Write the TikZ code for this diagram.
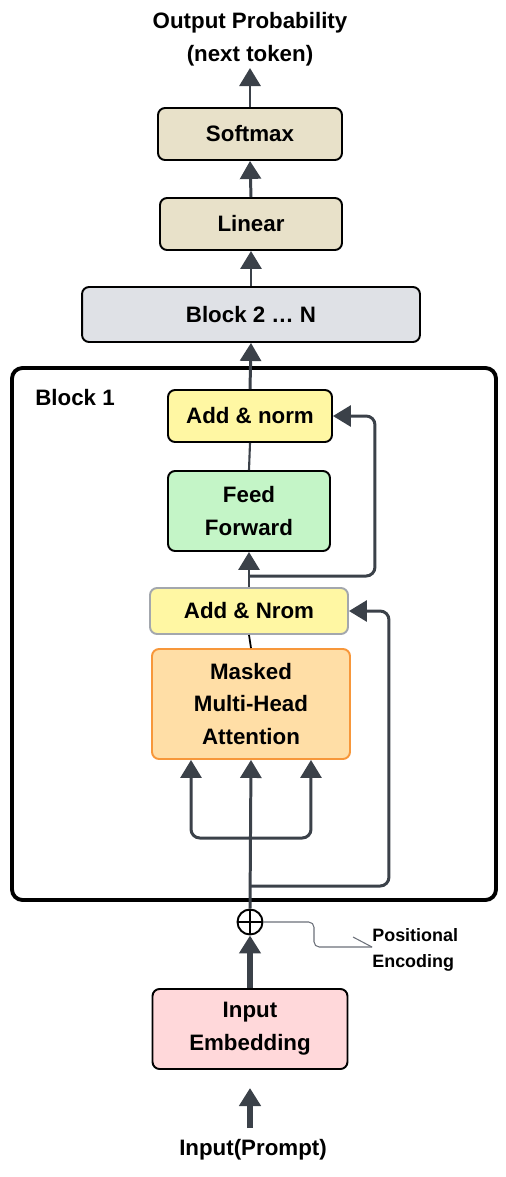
\documentclass[tikz,border=0pt]{standalone}
\usepackage{fontspec}
\setmainfont{Liberation Sans}
\usetikzlibrary{arrows.meta,calc}
\definecolor{arrowGray}{HTML}{3B4149}
\definecolor{lineGray}{HTML}{6B7079}
\definecolor{beigeFill}{HTML}{E8E1C9}
\definecolor{blockFill}{HTML}{DFE1E6}
\definecolor{yellowFill}{HTML}{FFF7A3}
\definecolor{greenFill}{HTML}{C4F5C7}
\definecolor{orangeFill}{HTML}{FFDEA6}
\definecolor{orangeLine}{HTML}{F7973A}
\definecolor{pinkFill}{HTML}{FFD8DA}
\definecolor{nromLine}{HTML}{A3A7AD}
\tikzstyle{layerBox}=[shape = rectangle, rounded corners = 4pt, draw = black, line width = 1.1pt, align = center, inner sep = 0pt, font = \bfseries\fontsize{12.7}{18.6}\selectfont]
\tikzstyle{plainText}=[align = center, inner sep = 0pt, font = \bfseries\fontsize{12.7}{18.6}\selectfont]

\begin{document}
\begin{tikzpicture}[x = 0.02cm, y = -0.02cm]
\tikzstyle{flowArrow}=[draw = arrowGray, line width = 1.7pt, -{Triangle[width = 0.42cm, length = 0.36cm]}]
\tikzstyle{thickArrow}=[flowArrow, line width = 2.9pt]
\tikzstyle{flowLine}=[draw = arrowGray, line width = 1.2pt]
\useasboundingbox (0,0) rectangle (506,1177);
\node[plainText] (output) at (250,39) {Output Probability\\(next token)};
\node[layerBox, fill = beigeFill, minimum width = 3.68cm, minimum height = 1.04cm] (softmax) at (250,134) {Softmax};
\node[layerBox, fill = beigeFill, minimum width = 3.64cm, minimum height = 1.04cm] (linear) at (251,224) {Linear};
\node[layerBox, fill = blockFill, minimum width = 6.76cm, minimum height = 1.1cm] (block2) at (251,314.5) {Block 2 \dots\ N};
\draw[black, line width = 2.2pt, rounded corners = 6pt] (12,368) rectangle (496,900);
\node[plainText, anchor = west] (block1) at (35,398) {Block 1};
\node[layerBox, fill = yellowFill, minimum width = 3.28cm, minimum height = 1.04cm] (addnorm) at (250,416) {Add \& norm};
\node[layerBox, fill = greenFill, minimum width = 3.24cm, minimum height = 1.6cm] (feedfwd) at (249,511) {Feed\\Forward};
\node[layerBox, fill = yellowFill, draw = nromLine, minimum width = 3.96cm, minimum height = 0.92cm] (addnrom) at (249,611) {Add \& Nrom};
\node[layerBox, fill = orangeFill, draw = orangeLine, minimum width = 3.96cm, minimum height = 2.2cm] (mmha) at (251,704) {Masked\\Multi-Head\\Attention};
\node[shape = circle, draw = black, fill = white, line width = 1.1pt, minimum size = 0.5cm, inner sep = 0pt] (plus) at (250,922) {};
\draw[black, line width = 1.1pt] (plus.north) -- (plus.south) (plus.west) -- (plus.east);
\node[plainText, anchor = west, align = left, font = \bfseries\fontsize{10.2}{14.8}\selectfont] (posenc) at (372,950) {Positional\\Encoding};
\node[layerBox, fill = pinkFill, minimum width = 3.9cm, minimum height = 1.6cm] (embed) at (250,1029) {Input\\Embedding};
\node[plainText] (prompt) at (253,1150) {Input(Prompt)};
\coordinate (outTip) at (250,68);
\coordinate (inBase) at (250,1128);
\coordinate (inTip) at (250,1088);
\coordinate (split) at (250,838);
\coordinate (res1) at (250,886);
\coordinate (res2) at (250,576);
\coordinate (peBend) at (314,922);
\coordinate (peEnd) at (372,947);
\coordinate (peTick) at (353,937);
\draw[flowArrow] (softmax.north) -- (outTip);
\draw[flowArrow] (linear.north) -- (softmax.south);
\draw[flowArrow] (block2.north) -- (linear.south);
\draw[flowArrow] (addnorm.north) -- (block2.south);
\draw[flowLine] (feedfwd.north) -- (addnorm.south);
\draw[flowArrow] (addnrom.north) -- (feedfwd.south);
\draw[black, line width = 1pt] (mmha.north) -- (addnrom.south);
\draw[flowArrow] (plus.north) -- (mmha.south);
\draw[flowArrow, rounded corners = 5pt] (split) -| ([xshift = -1.2cm]mmha.south);
\draw[flowArrow, rounded corners = 5pt] (split) -| ([xshift = 1.2cm]mmha.south);
\draw[flowArrow, rounded corners = 5pt] (res1) -| ($(addnrom.east)+(40,0)$) -- (addnrom.east);
\draw[flowArrow, rounded corners = 5pt] (res2) -| ($(addnorm.east)+(42,0)$) -- (addnorm.east);
\draw[thickArrow] (embed.north) -- (plus.south);
\draw[thickArrow] (inBase) -- (inTip);
\draw[lineGray, line width = 0.6pt, rounded corners = 3pt] (plus.east) -- (peBend) |- (peEnd);
\draw[lineGray, line width = 0.6pt] (peTick) -- (peEnd);
\end{tikzpicture}
\end{document}
